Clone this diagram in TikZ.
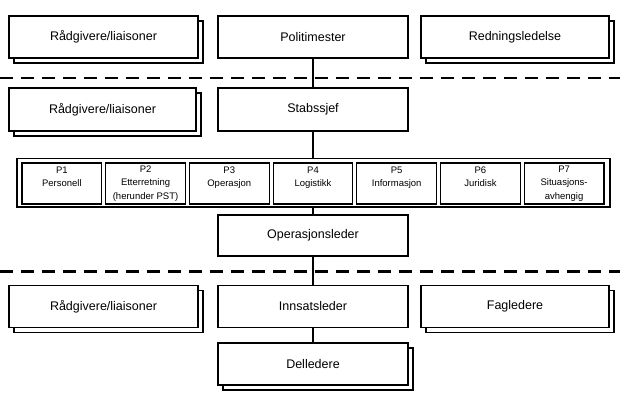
\documentclass[tikz,border=0pt]{standalone}
\usepackage{fontspec}
\setmainfont{Liberation Sans}
\usetikzlibrary{shadows}
\begin{document}
\begin{tikzpicture}[x=1pt,y=-1pt,
  box/.style={draw, line width=1.2pt, fill=white, inner sep=0pt, align=center,
    minimum width=190pt, minimum height=42pt, font=\fontsize{12.5}{15}\selectfont},
  stack/.style={box, copy shadow={shadow xshift=5pt, shadow yshift=-5pt, draw, line width=1.2pt, fill=white}},
  pbox/.style={draw, line width=1.2pt, fill=white, inner sep=0pt, align=center,
    minimum width=79.7pt, minimum height=41pt, font=\fontsize{9.5}{13.5}\selectfont},
  sep/.style={line width=2.6pt, dash pattern=on 13pt off 8pt},
  conn/.style={line width=1.8pt}
]
\useasboundingbox (0,0) rectangle (620,405);
% separators
\coordinate (d1l) at (0,78); \coordinate (d1r) at (620,78);
\coordinate (d2l) at (0,271.5); \coordinate (d2r) at (620,271.5);
\draw[sep] (d1l) -- (d1r);
\draw[sep] (d2l) -- (d2r);
% top row
\node[stack, minimum width=189pt] (r1) at (103.5,37) {Rådgivere/liaisoner};
\node[box] (pm) at (313,37) {Politimester};
\node[stack, minimum width=188pt] (rl) at (515,37) {Redningsledelse};
% second row
\node[stack, minimum width=187pt, minimum height=43pt] (r2) at (102.5,109.5) {Rådgivere/liaisoner};
\node[box, minimum height=43pt] (sj) at (313,109.5) {Stabssjef};
% P container
\node[draw, line width=1.2pt, fill=white, minimum width=593pt, minimum height=48.5pt, inner sep=0pt] (pc) at (313.5,182.75) {};
\node[pbox] (p1) at (61.85,183.5) {P1\\Personell\\\phantom{X}};
\node[pbox] (p2) at (145.56,183.5) {P2\\Etterretning\\(herunder PST)};
\node[pbox] (p3) at (229.27,183.5) {P3\\Operasjon\\\phantom{X}};
\node[pbox] (p4) at (312.98,183.5) {P4\\Logistikk\\\phantom{X}};
\node[pbox] (p5) at (396.69,183.5) {P5\\Informasjon\\\phantom{X}};
\node[pbox] (p6) at (480.40,183.5) {P6\\Juridisk\\\phantom{X}};
\node[pbox] (p7) at (564.11,183.5) {P7\\Situasjons-\\avhengig};
% operasjonsleder
\node[box, minimum height=41pt] (ol) at (313,235.5) {Operasjonsleder};
% fourth row
\node[stack, minimum width=189pt] (r4) at (103.5,306.5) {Rådgivere/liaisoner};
\node[box] (il) at (313,306.5) {Innsatsleder};
\node[stack, minimum width=188pt] (fl) at (515,306.5) {Fagledere};
\node[stack] (dl) at (313,364) {Delledere};
% connectors
\draw[conn] (pm.south) -- (sj.north);
\draw[conn] (sj.south) -- (sj.south |- pc.north);
\draw[conn] (ol.north |- pc.south) -- (ol.north);
\draw[conn] (ol.south) -- (il.north);
\draw[conn] (il.south) -- (dl.north);
\end{tikzpicture}
\end{document}
